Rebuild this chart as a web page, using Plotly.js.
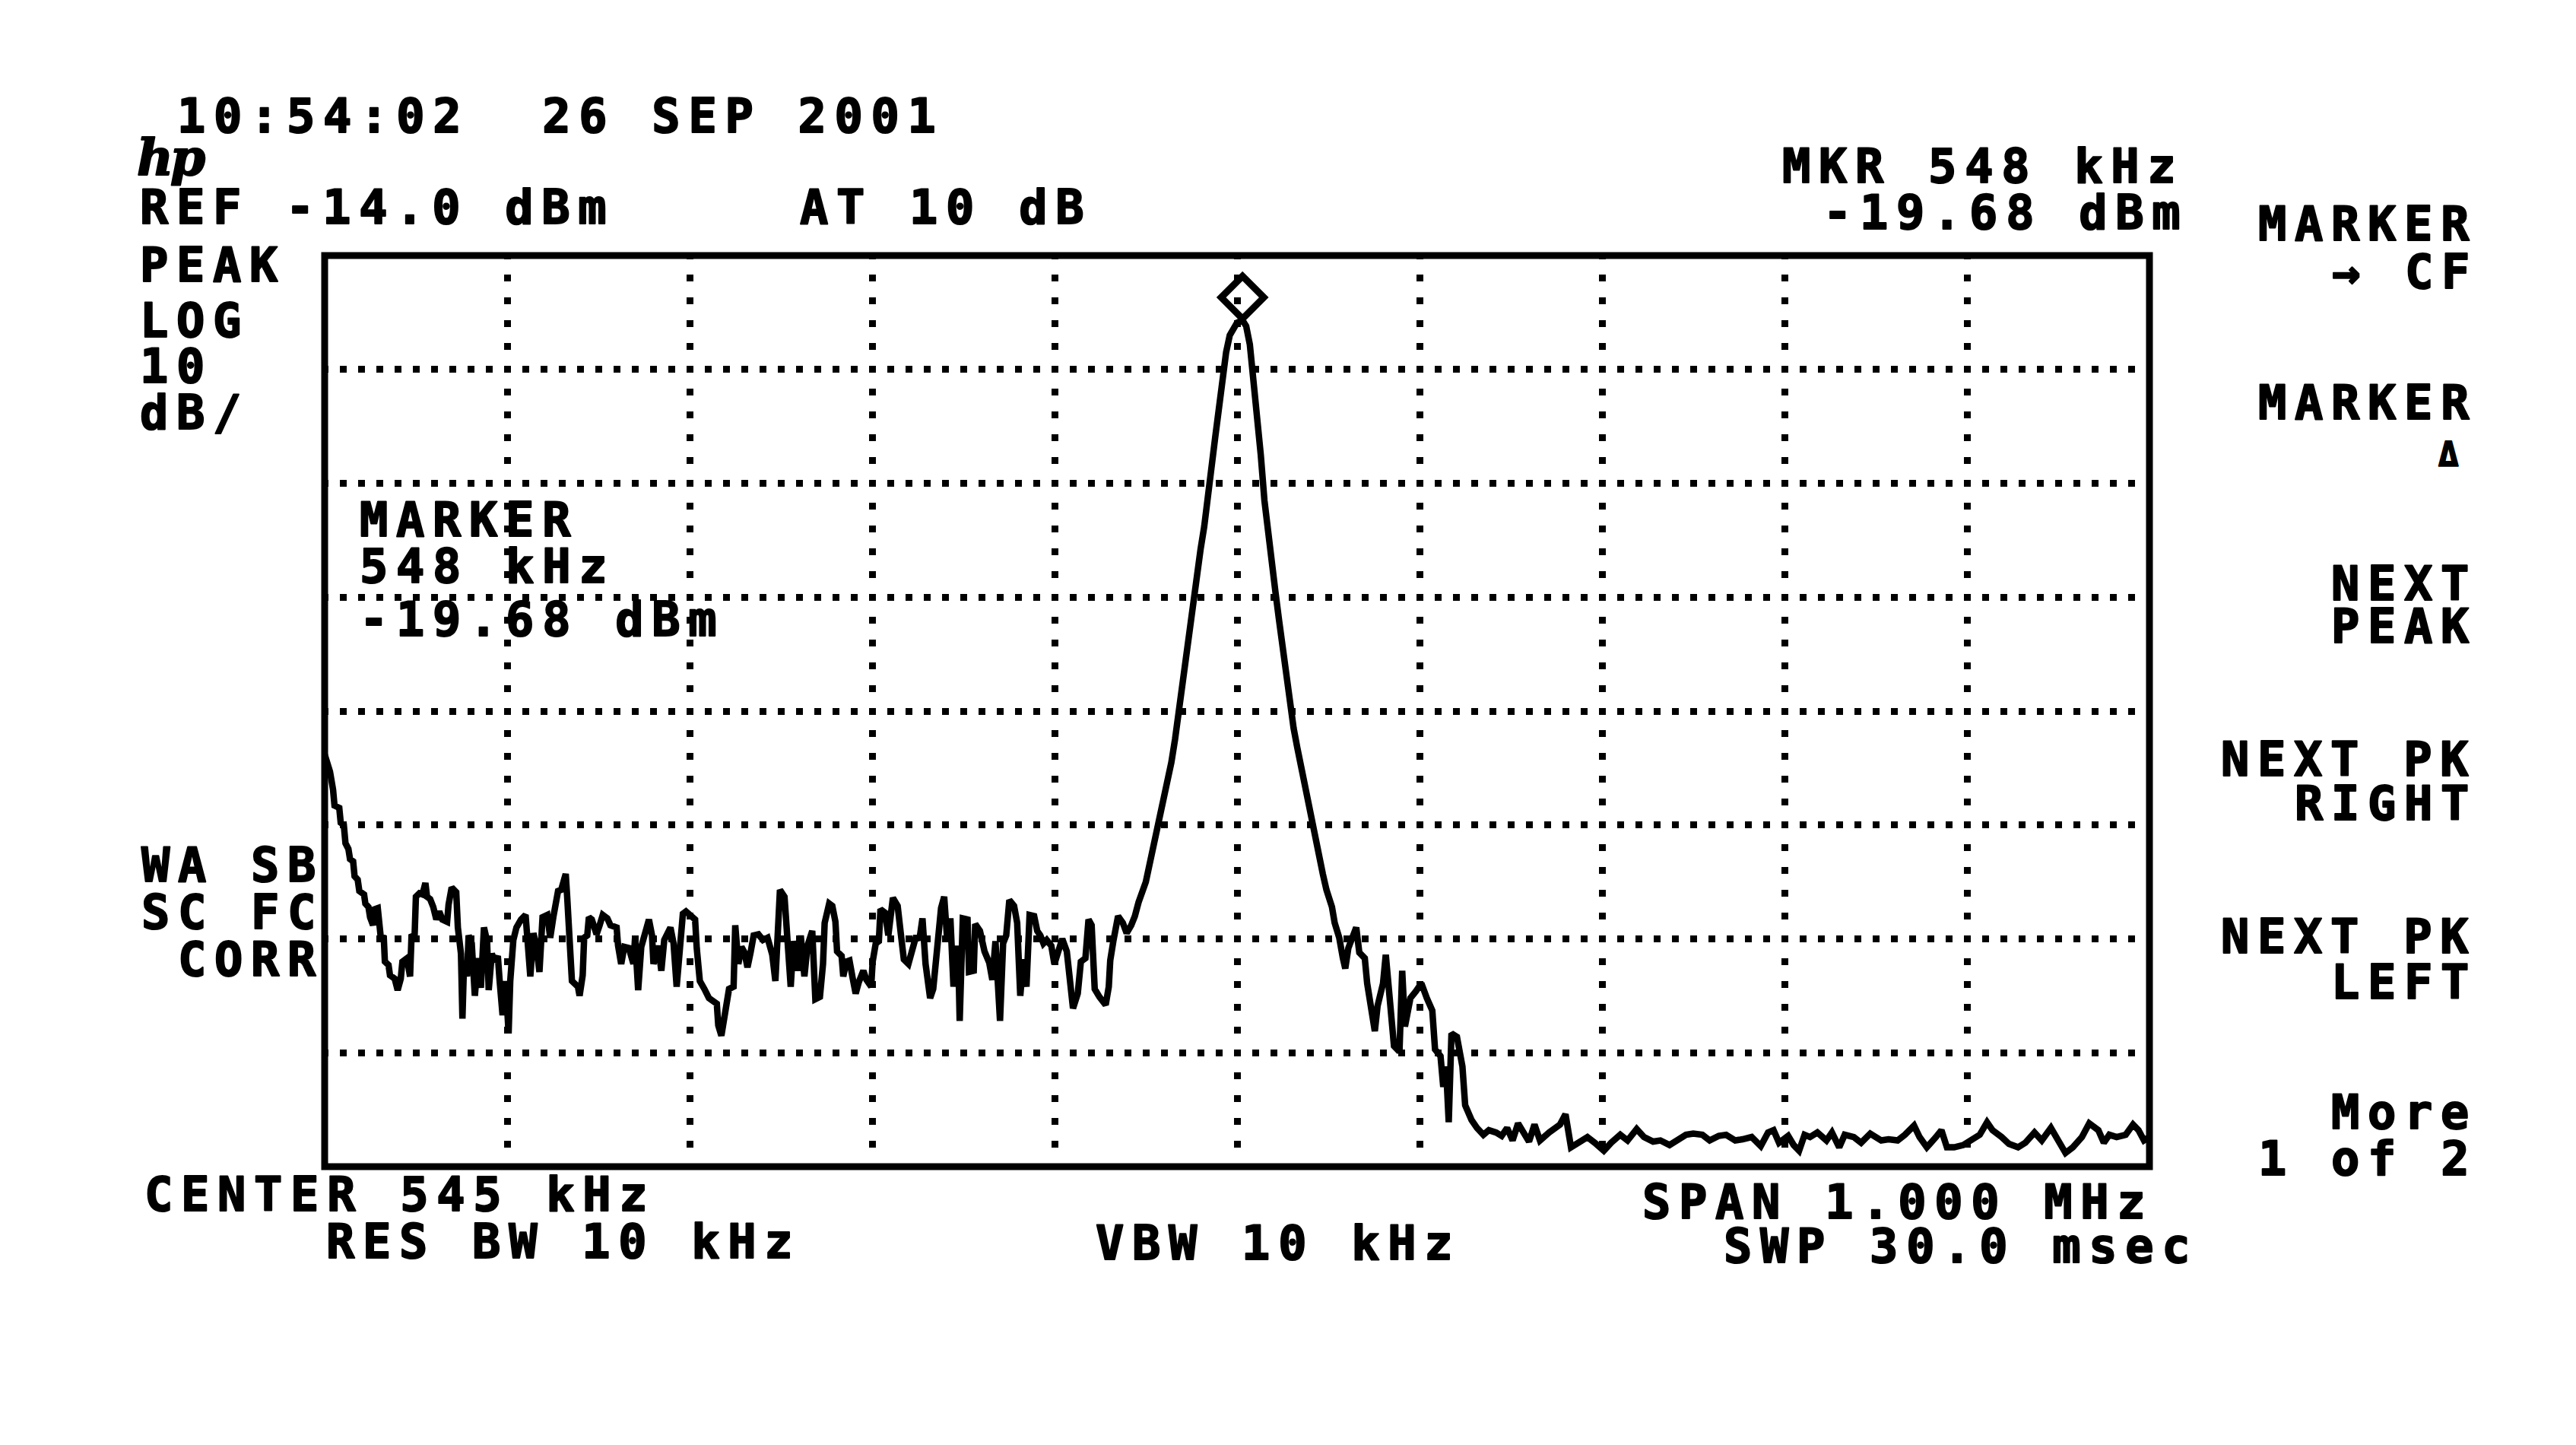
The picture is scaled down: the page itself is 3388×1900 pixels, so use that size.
<!DOCTYPE html>
<html>
<head>
<meta charset="utf-8">
<script src="https://cdn.plot.ly/plotly-3.0.1.min.js"></script>
<style>
html,body{margin:0;padding:0;background:#fff;}
.annotation-text{letter-spacing:10.7px;stroke:#000;stroke-width:2px;stroke-linejoin:round;}
</style>
</head>
<body>
<div id="chart" style="width:3388px;height:1900px;"></div>
<script>
// ---- instrument settings ----
const centerKHz = 545;
const spanKHz = 1000;
const refLevelDbm = -14;
const dbPerDiv = 10;
const divisionsX = 10;
const divisionsY = 8;

// ---- marker ----
const markerFreqKHz = [548];
const markerLevelDbm = [-19.68];

// ---- trace: low-frequency noise (45 - 300 kHz) ----
const lowNoiseKHz = [45.0,46.2,47.9,49.6,50.4,53.0,53.8,55.5,56.4,58.0,
 58.9,60.6,61.4,63.1,64.0,66.6,67.3,69.0,69.9,71.5,
 72.4,74.1,74.9,75.7,77.4,78.0,80.0,80.8,83.4,85.0,
 86.7,87.6,90.1,91.8,92.6,94.3,95.0,96.9,98.6,100.2,
 101.1,102.8,104.5,106.2,107.8,109.5,112.1,112.9,114.6,117.1,
 118.0,119.7,120.5,121.4,123.0,123.9,125.6,127.3,129.0,130.6,
 132.3,134.0,134.9,136.6,138.2,139.9,140.8,142.5,144.2,145.8,
 146.7,148.4,150.1,152.6,155.1,156.0,157.7,159.4,161.0,162.7,
 164.4,167.0,168.6,170.3,172.9,174.6,177.1,177.9,178.8,180.5,
 183.8,184.7,186.4,187.2,188.9,189.8,191.4,194.0,195.7,197.4,
 199.9,201.6,205.0,205.8,207.5,209.2,211.7,214.2,215.1,216.8,
 218.5,221.0,222.7,224.4,225.2,227.8,229.5,231.1,234.5,236.2,
 237.9,239.6,241.3,243.0,248.0,248.9,250.6,253.1,255.6,259.9,
 260.7,262.4,264.1,266.6,269.1,270.0,271.7,273.4,275.1,276.7,
 278.4,280.1,282.7,285.2,287.7,290.3,292.0,293.6,294.5,297.0,
 298.7,300.4];
const lowNoiseDbm = [-57.8,-58.4,-59.3,-60.9,-62.3,-62.5,-63.8,-64.0,-65.6,-66.1,
 -67.0,-67.2,-68.5,-68.8,-69.8,-70.1,-70.9,-71.2,-72.1,-72.8,
 -71.4,-71.3,-72.8,-73.8,-73.9,-76.0,-76.3,-77.2,-77.5,-78.5,
 -77.5,-76.0,-75.7,-77.3,-73.8,-73.7,-70.3,-70.0,-70.1,-69.1,
 -70.3,-70.5,-71.2,-72.3,-71.6,-72.3,-72.5,-71.0,-69.5,-69.9,
 -73.0,-75.3,-81.0,-76.0,-77.3,-73.7,-74.4,-79.0,-75.7,-78.3,
 -73.0,-74.2,-78.5,-75.3,-76.0,-75.5,-77.5,-80.7,-77.7,-82.3,
 -77.7,-74.1,-73.0,-72.3,-71.9,-74.2,-77.3,-73.5,-74.6,-76.9,
 -72.1,-71.9,-73.9,-72.1,-69.8,-69.7,-68.3,-70.3,-72.8,-77.7,
 -78.2,-79.0,-77.2,-73.9,-73.7,-72.1,-72.3,-73.6,-72.8,-71.9,
 -72.2,-72.8,-73.0,-74.6,-76.2,-74.7,-74.8,-76.2,-73.9,-78.5,
 -74.7,-73.0,-72.3,-73.7,-76.2,-74.6,-76.8,-74.1,-73.0,-74.4,
 -78.2,-75.0,-71.8,-71.6,-72.3,-74.8,-77.7,-78.4,-79.2,-79.7,
 -81.6,-82.5,-80.9,-78.4,-78.2,-72.8,-76.2,-74.7,-75.2,-76.5,
 -75.2,-73.7,-73.6,-74.1,-73.9,-75.4,-77.7,-73.9,-69.7,-70.3,
 -73.7,-78.2];

// ---- trace: mid-band noise (300 - 483 kHz) ----
const midNoiseKHz = [301.9,304.5,305.9,307.9,309.6,312.2,313.9,316.4,318.1,319.0,
 321.5,323.2,324.9,325.8,328.3,329.2,330.9,332.6,334.3,336.0,
 337.7,340.2,341.9,344.5,345.3,347.0,348.7,349.6,352.1,353.9,
 356.4,359.0,360.7,362.4,364.9,367.5,369.2,370.9,372.6,374.3,
 376.8,378.5,380.2,382.8,384.5,386.2,387.9,389.6,392.1,393.0,
 394.7,397.3,398.1,400.7,401.5,404.1,406.6,409.2,410.9,412.6,
 415.1,416.8,418.5,420.2,422.8,424.5,426.2,427.9,429.6,431.3,
 433.8,435.5,437.2,438.9,440.7,443.2,444.9,447.5,449.2,451.7,
 453.4,455.1,457.7,459.4,461.9,463.6,465.3,467.0,469.6,473.0,
 474.7,475.5,477.2,479.8,482.4];
const midNoiseDbm = [-74.2,-76.8,-73.7,-77.3,-74.6,-73.3,-79.3,-79.1,-76.2,-72.6,
 -70.9,-71.1,-72.5,-75.1,-75.5,-77.3,-76.0,-75.9,-77.4,-78.8,
 -77.8,-76.8,-77.6,-78.2,-76.0,-74.4,-74.2,-71.4,-71.7,-73.7,
 -70.4,-71.1,-73.5,-75.8,-76.2,-74.8,-73.7,-74.1,-72.2,-76.2,
 -79.2,-78.4,-75.1,-71.3,-70.3,-74.2,-72.2,-78.2,-74.6,-81.2,
 -72.2,-72.3,-76.9,-76.8,-72.7,-73.3,-75.1,-76.1,-77.6,-74.2,
 -81.2,-74.4,-73.7,-70.6,-71.1,-72.6,-79.0,-75.8,-78.2,-71.9,
 -72.0,-73.3,-73.7,-74.4,-74.1,-74.6,-76.2,-74.6,-74.0,-75.1,
 -78.4,-80.1,-78.8,-76.0,-75.7,-72.3,-72.8,-78.4,-79.1,-79.8,
 -78.2,-75.9,-74.2,-72.0,-72.6];

// ---- trace: carrier response (484 - 601 kHz) ----
const carrierKHz = [484.5,487,489,491,493,495,497,499,501,503,
 505,507,509,511,513,515,517,519,521,523,
 525,527,529,531,533,535,537,539,541,543,
 545,548,550,552,554,556,558,560,562,564,
 566,568,570,572,574,576,578,580,582,584,
 586,588,590,592,594,597,598.5,601];
const carrierDbm = [-73.5,-72.8,-72.0,-70.8,-70.0,-69.0,-67.5,-66.0,-65.0,-63.5,
 -61.8,-60.2,-58.5,-56.5,-54.0,-51.8,-49.5,-47.0,-44.0,-41.8,
 -39.8,-37.8,-35.5,-32.8,-30.0,-27.5,-24.8,-22.5,-21.0,-20.3,
 -19.9,-19.68,-20.2,-21.8,-24.8,-28.0,-31.5,-35.5,-38.5,-41.2,
 -43.5,-46.0,-48.5,-51.0,-53.5,-55.5,-57.2,-58.8,-60.5,-62.5,
 -64.2,-65.8,-67.2,-68.3,-69.7,-71.2,-72.6,-73.9];

// ---- trace: shoulder (603 - 677 kHz) ----
const shoulderKHz = [603,604.3,606,609,610.3,612,615,616.3,619,620.5,
 622,625,626.5,629.5,631,634,635.5,637,640,643,
 646,649,652,653.5,656.5,658,659.5,661,662.5,665.5,
 668.5,670,673.5,676.5];
const shoulderDbm = [-75.7,-76.6,-74.8,-73.4,-73.0,-75.2,-75.7,-77.9,-80.3,-82.1,
 -79.9,-77.9,-75.4,-80.1,-83.4,-83.9,-76.8,-81.7,-79.2,-78.6,
 -77.9,-79.2,-80.3,-83.7,-84.3,-87.0,-85.2,-90.1,-82.3,-82.6,
 -85.2,-88.6,-89.9,-90.6];

// ---- trace: noise floor (680 - 1045 kHz) ----
const floorKHz = [680,683,687,690,693,696,699,702,705,708,
 711,716,719,722,725,728,732,737,741,746,
 750,755,759,764,768,773,777,782,786,791,
 795,800,804,809,813,818,822,827,832,836,
 839,842,847,850,853,856,859,863,868,871,
 875,878,883,887,892,898,902,907,911,916,
 919,923,928,931,934,938,943,947,952,956,
 959,964,968,973,977,982,986,991,994,999,
 1003,1008,1012,1017,1020,1023,1027,1032,1036,1039,
 1042,1045];
const floorDbm = [-91.2,-90.8,-91.0,-91.3,-90.6,-91.7,-90.2,-91.0,-91.8,-90.3,
 -91.7,-91.0,-90.6,-90.3,-89.4,-92.3,-91.9,-91.4,-91.9,-92.6,
 -91.9,-91.2,-91.7,-90.7,-91.4,-91.8,-91.7,-92.1,-91.7,-91.2,
 -91.1,-91.2,-91.7,-91.3,-91.2,-91.7,-91.6,-91.4,-92.2,-91.0,
 -90.8,-91.9,-91.3,-92.1,-92.6,-91.2,-91.4,-91.0,-91.7,-91.0,
 -92.3,-91.2,-91.4,-91.9,-91.1,-91.7,-91.6,-91.7,-91.2,-90.4,
 -91.4,-92.3,-91.4,-90.8,-92.3,-92.3,-92.1,-91.7,-91.2,-90.1,
 -90.8,-91.4,-92.0,-92.3,-91.9,-91.0,-91.7,-90.6,-91.4,-92.8,
 -92.3,-91.4,-90.2,-90.8,-91.9,-91.2,-91.4,-91.2,-90.3,-90.8,
 -91.7,-91.4];

const freqKHz = [].concat(lowNoiseKHz, midNoiseKHz, carrierKHz, shoulderKHz, floorKHz);
const levelDbm = [].concat(lowNoiseDbm, midNoiseDbm, carrierDbm, shoulderDbm, floorDbm);

// ---- screen annotations (text, left px, centre px) ----
const FONT = '"DejaVu Sans Mono", monospace';
const W_FIG = 3388, H_FIG = 1900;
const L = 427, T = 336, PW = 2400, PH = 1198;

const screenTexts = [
  ['10:54:02\u00a0\u00a026 SEP 2001', 233, 153],
  ['REF -14.0 dBm', 184, 272],
  ['AT 10 dB', 1052, 272],
  ['PEAK', 184, 349],
  ['LOG', 184, 421],
  ['10', 184, 482],
  ['dB/', 184, 542],
  ['MARKER', 473, 683],
  ['548 kHz', 473, 744],
  ['-19.68 dBm', 473, 814],
  ['WA SB', 186, 1137],
  ['SC FC', 186, 1199],
  ['CORR', 234, 1261],
  ['CENTER 545 kHz', 190, 1570],
  ['RES BW 10 kHz', 429, 1632],
  ['VBW 10 kHz', 1441, 1635],
  ['SPAN 1.000 MHz', 2160, 1580],
  ['SWP 30.0 msec', 2267, 1638],
  ['MKR 548 kHz', 2344, 219],
  ['-19.68 dBm', 2398, 280],
  ['MARKER', 2970, 295],
  ['\u2192 CF', 3067, 357],
  ['MARKER', 2970, 529],
  ['NEXT', 3066, 767],
  ['PEAK', 3066, 823],
  ['NEXT PK', 2921, 998],
  ['RIGHT', 3018, 1056],
  ['NEXT PK', 2921, 1231],
  ['LEFT', 3066, 1291],
  ['More', 3066, 1462],
  ['1 of 2', 2970, 1523]
];

function ann(text, px, py, size, family) {
  return {
    text: text,
    xref: 'paper', yref: 'paper',
    x: (px - L) / PW,
    y: (T + PH - py) / PH,
    xanchor: 'left', yanchor: 'middle',
    showarrow: false,
    borderpad: 0, borderwidth: 0,
    font: {family: family || FONT, size: size || 62, color: '#000', weight: 'bold'}
  };
}

const annotations = screenTexts.map(t => ann(t[0], t[1], t[2]));
annotations.push(ann('\u0394', 3207, 597, 44));
annotations.push(ann('<span style="letter-spacing:-4px"><i>hp</i></span>', 180, 207, 66, '"DejaVu Serif", serif'));

const data = [{
  type: 'scatter',
  mode: 'lines',
  x: freqKHz,
  y: levelDbm,
  line: {color: '#000', width: 8.5},
  hoverinfo: 'skip'
}];

const layout = {
  width: W_FIG, height: H_FIG,
  margin: {l: L, r: W_FIG - L - PW, t: T, b: H_FIG - T - PH, pad: 0},
  paper_bgcolor: '#fff',
  plot_bgcolor: '#fff',
  showlegend: false,
  xaxis: {
    range: [centerKHz - spanKHz / 2, centerKHz + spanKHz / 2],
    tick0: centerKHz - spanKHz / 2,
    dtick: spanKHz / divisionsX,
    showticklabels: false, ticks: '',
    showgrid: true, gridcolor: '#000', gridwidth: 9,
    griddash: '4.5px,20.95px,4.5px,0px',
    zeroline: false, showline: false, fixedrange: true
  },
  yaxis: {
    range: [refLevelDbm - dbPerDiv * divisionsY, refLevelDbm],
    tick0: refLevelDbm,
    dtick: dbPerDiv,
    showticklabels: false, ticks: '',
    showgrid: true, gridcolor: '#000', gridwidth: 9,
    griddash: '4.5px,15px,4.5px,0px',
    zeroline: false, showline: false, fixedrange: true
  },
  shapes: [
    {type: 'rect', xref: 'paper', yref: 'paper', x0: 0, x1: 1, y0: 0, y1: 1,
     line: {color: '#000', width: 9}, fillcolor: 'rgba(0,0,0,0)', layer: 'above'},
    {type: 'path', xref: 'x', yref: 'y',
     xsizemode: 'pixel', ysizemode: 'pixel',
     xanchor: markerFreqKHz[0], yanchor: markerLevelDbm[0],
     path: 'M0,2 L28,30 L0,58 L-28,30 Z',
     line: {color: '#000', width: 9}, fillcolor: 'rgba(0,0,0,0)', layer: 'above'}
  ],
  annotations: annotations
};

Plotly.newPlot('chart', data, layout, {staticPlot: true, displayModeBar: false});
</script>
</body>
</html>
